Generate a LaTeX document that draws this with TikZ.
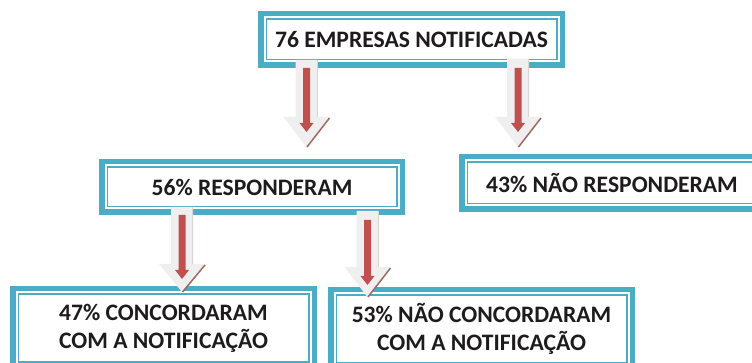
\documentclass[tikz,border=0pt]{standalone}
\usepackage{fontspec}
\setmainfont{Carlito}
\usetikzlibrary{calc}
\definecolor{tealA}{HTML}{4BACC6}
\definecolor{redA}{HTML}{C0504D}
\definecolor{grayA}{HTML}{EFEFEF}
\definecolor{grayB}{HTML}{DCD2D2}
\definecolor{shadowA}{HTML}{9E6A60}
\definecolor{txtA}{HTML}{1E1B1C}
\newcommand\blockarrow[6]{%
  \fill[grayA] (#1-11,#2) -- (#1+11,#2) -- (#1+11,#3) -- (#1+23,#3) -- (#1,#4) -- (#1-23,#3) -- (#1-11,#3) -- cycle;
  \draw[grayB, line width=1] (#1+10.5,#2) -- (#1+10.5,#3);
  \draw[shadowA, line width=1.5] (#1+23,#3+1) -- (#1+0.5,#4);
  \fill[redA] (#1-3.5,#5) -- (#1+3.5,#5) -- (#1+3.5,#6-9) -- (#1+7,#6-9) -- (#1,#6) -- (#1-7,#6-9) -- (#1-3.5,#6-9) -- cycle;
}
\tikzset{
  framebox/.style={draw=tealA, line width=5.5, fill=white, outer sep=0, inner sep=0,
    align=center, text=txtA, font=\fontsize{23.6}{28}\selectfont\bfseries},
  innerline/.style={draw=tealA, line width=1.7}
}
\newcommand\innerframe[1]{\draw[innerline] ($(#1.north west)+(5.6,5.6)$) rectangle ($(#1.south east)+(-5.6,-5.6)$);}
\begin{document}
\begin{tikzpicture}[x=1pt,y=-1pt]
\useasboundingbox (0,0) rectangle (752,363);
\clip (0,0) rectangle (752,363);
\node[framebox, minimum width=301.5, minimum height=51.5] (top) at (411.5,39.5) {76 EMPRESAS NOTIFICADAS};
\innerframe{top}
\node[framebox, minimum width=300.5, minimum height=50.5] (resp) at (252,187) {56\% RESPONDERAM};
\innerframe{resp}
\node[framebox, minimum width=300.5, minimum height=52.5] (nresp) at (612,183) {43\% NÃO RESPONDERAM};
\innerframe{nresp}
\node[framebox, minimum width=301.5, minimum height=78.5] (conc) at (163.5,328) {47\% CONCORDARAM\\COM A NOTIFICAÇÃO};
\innerframe{conc}
\node[framebox, minimum width=301.5, minimum height=78.5] (nconc) at (481.5,329) {53\% NÃO CONCORDARAM\\COM A NOTIFICAÇÃO};
\innerframe{nconc}
\blockarrow{306.5}{60}{117}{147}{68}{132}
\blockarrow{518}{59}{117}{147}{68}{132}
\blockarrow{182}{207}{264}{292}{215}{279}
\blockarrow{367.5}{211}{267}{297}{220}{285}
\end{tikzpicture}
\end{document}
